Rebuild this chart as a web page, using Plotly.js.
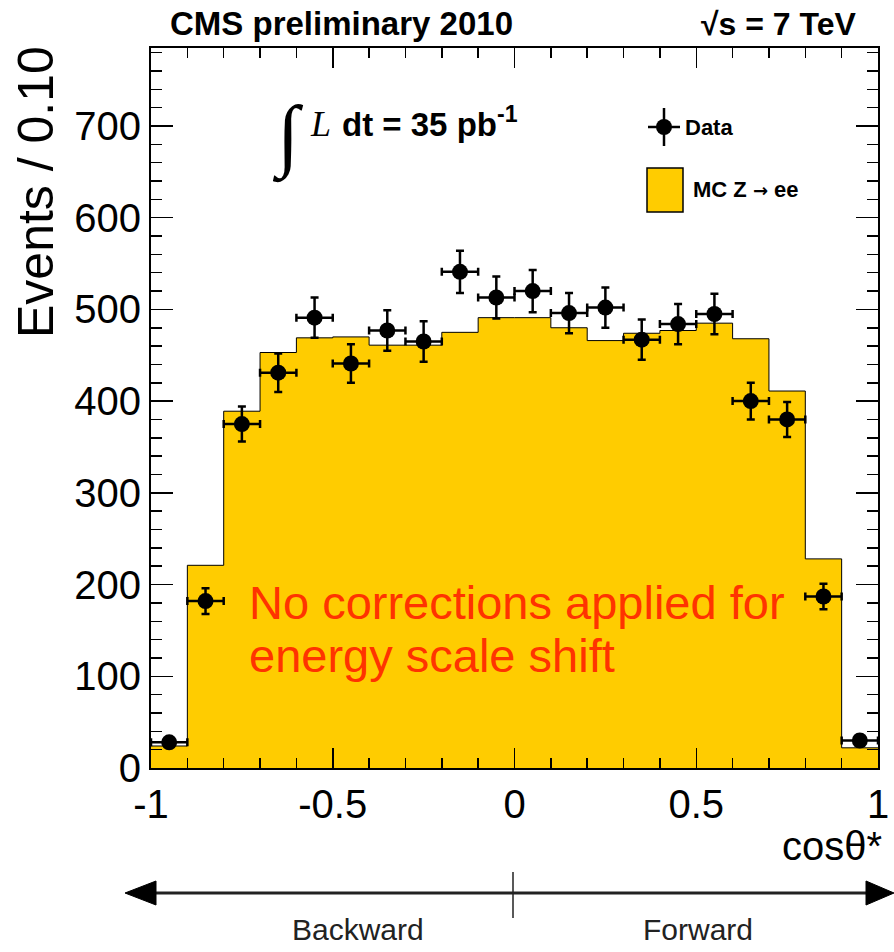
<!DOCTYPE html>
<html>
<head>
<meta charset="utf-8">
<script src="https://cdn.plot.ly/plotly-3.0.1.min.js"></script>
<style>
  html, body { margin: 0; padding: 0; background: #ffffff; }
  #chart { width: 894px; height: 952px; }
</style>
</head>
<body>
<div id="chart"></div>
<script>
// ---------------- data ----------------
const binCenters = [-0.95, -0.85, -0.75, -0.65, -0.55, -0.45, -0.35, -0.25, -0.15, -0.05,
                     0.05,  0.15,  0.25,  0.35,  0.45,  0.55,  0.65,  0.75,  0.85,  0.95];
const binHalfWidth = 0.05;
const mcCounts   = [24, 221, 389, 453, 469, 470, 461, 461, 475, 491,
                    491, 480, 466, 474, 477, 485, 468, 411, 228, 22];
const dataCounts = [28, 182, 375, 431, 491, 441, 477, 465, 541, 513,
                    520, 496, 502, 467, 484, 495, 400, 380, 187, 30];
const dataErrors = [5, 14, 19, 21, 22, 21, 22, 22, 23, 23,
                    23, 22, 22, 22, 22, 22, 20, 19, 14, 6];
const xTickVals = [-1, -0.5, 0, 0.5, 1];
const xTickText = ["-1", "-0.5", "0", "0.5", "1"];
const yTickVals = [0, 100, 200, 300, 400, 500, 600, 700];
const yTickText = ["0", "100", "200", "300", "400", "500", "600", "700"];

// ---------------- geometry helpers (layout only) ----------------
const W = 894, H = 952;
const M = {l: 151, r: 16, t: 48, b: 184};
const PW = W - M.l - M.r, PH = H - M.t - M.b;
const px = x => (x - M.l) / PW;          // pixel x -> paper x
const py = y => (H - M.b - y) / PH;      // pixel y -> paper y

const SANS = "Liberation Sans, Arial, Helvetica, sans-serif";
const SERIF = "Liberation Serif, Times New Roman, serif";

// step histogram built from bin edges
const binEdges = binCenters.map(c => c - binHalfWidth).concat([binCenters[binCenters.length - 1] + binHalfWidth]);
const stepY = mcCounts.concat([mcCounts[mcCounts.length - 1]]);

const mcTrace = {
  type: 'scatter', mode: 'lines', x: binEdges, y: stepY,
  line: {shape: 'hv', color: '#000000', width: 1},
  fill: 'tozeroy', fillcolor: '#ffcc00',
  showlegend: false, hoverinfo: 'skip'
};

const dataTrace = {
  type: 'scatter', mode: 'markers', x: binCenters, y: dataCounts,
  marker: {color: '#000000', size: 16},
  error_y: {type: 'data', array: dataErrors, visible: true, color: '#000000', thickness: 2.5, width: 4},
  error_x: {type: 'constant', value: binHalfWidth, visible: true, color: '#000000', thickness: 2.5, width: 4},
  showlegend: false, cliponaxis: false
};

const annotations = [
  {xref: 'paper', yref: 'paper', x: px(168), y: py(24), xanchor: 'left', yanchor: 'middle',
   text: '<b>CMS preliminary 2010</b>', showarrow: false, font: {family: SANS, size: 33, color: '#000'}},
  {xref: 'paper', yref: 'paper', x: px(858), y: py(24), xanchor: 'right', yanchor: 'middle',
   text: '<b>√s = 7 TeV</b>', showarrow: false, font: {family: SANS, size: 32, color: '#000'}},
  // integrated luminosity
  {xref: 'paper', yref: 'paper', x: px(288), y: py(136), xanchor: 'center', yanchor: 'middle',
   text: '∫', showarrow: false, font: {family: SERIF, size: 80, color: '#000'}},
  {xref: 'paper', yref: 'paper', x: px(308), y: py(124), xanchor: 'left', yanchor: 'middle',
   text: '<i>L</i>', showarrow: false, font: {family: SERIF, size: 36, color: '#000'}},
  {xref: 'paper', yref: 'paper', x: px(340), y: py(122), xanchor: 'left', yanchor: 'middle',
   text: '<b>dt = 35 pb<sup>-1</sup></b>', showarrow: false, font: {family: SANS, size: 33, color: '#000'}},
  // legend texts
  {xref: 'paper', yref: 'paper', x: px(683), y: py(127), xanchor: 'left', yanchor: 'middle',
   text: '<b>Data</b>', showarrow: false, font: {family: SANS, size: 22, color: '#000'}},
  {xref: 'paper', yref: 'paper', x: px(691), y: py(190), xanchor: 'left', yanchor: 'middle',
   text: '<b>MC Z <span style="font-family:DejaVu Sans;font-size:18px">→</span> ee</b>', showarrow: false, font: {family: SANS, size: 22, color: '#000'}},
  // red note
  {xref: 'paper', yref: 'paper', x: px(247), y: py(602), xanchor: 'left', yanchor: 'middle',
   text: 'No corrections applied for', showarrow: false, font: {family: SANS, size: 47, color: '#ff3300'}},
  {xref: 'paper', yref: 'paper', x: px(247), y: py(655), xanchor: 'left', yanchor: 'middle',
   text: 'energy scale shift', showarrow: false, font: {family: SANS, size: 47, color: '#ff3300'}},
  // axis titles
  {xref: 'paper', yref: 'paper', x: px(36), y: py(44), xanchor: 'center', yanchor: 'top', textangle: -90,
   text: 'Events / 0.10', showarrow: false, font: {family: SANS, size: 50, color: '#000'}},
  {xref: 'paper', yref: 'paper', x: px(884), y: py(846), xanchor: 'right', yanchor: 'middle',
   text: 'cosθ*', showarrow: false, font: {family: SANS, size: 40, color: '#000'}},
  // direction labels
  {xref: 'paper', yref: 'paper', x: px(358), y: py(929), xanchor: 'center', yanchor: 'middle',
   text: 'Backward', showarrow: false, font: {family: SANS, size: 30, color: '#222'}},
  {xref: 'paper', yref: 'paper', x: px(698), y: py(929), xanchor: 'center', yanchor: 'middle',
   text: 'Forward', showarrow: false, font: {family: SANS, size: 30, color: '#222'}}
];

const shapes = [
  // legend: data marker with error cross
  {type: 'line', xref: 'paper', yref: 'paper', x0: px(648), x1: px(680), y0: py(127), y1: py(127), line: {color: '#000', width: 2.5}},
  {type: 'line', xref: 'paper', yref: 'paper', x0: px(664), x1: px(664), y0: py(108), y1: py(146), line: {color: '#000', width: 2.5}},
  {type: 'circle', xref: 'paper', yref: 'paper', x0: px(656), x1: px(672), y0: py(119), y1: py(135), fillcolor: '#000', line: {color: '#000', width: 0}},
  // legend: MC box
  {type: 'rect', xref: 'paper', yref: 'paper', x0: px(647), x1: px(683), y0: py(168), y1: py(212), fillcolor: '#ffcc00', line: {color: '#000', width: 1.5}},
  // backward/forward arrow
  {type: 'line', xref: 'paper', yref: 'paper', x0: px(150), x1: px(872), y0: py(893), y1: py(893), line: {color: '#222', width: 3}},
  {type: 'path', xref: 'paper', yref: 'paper',
   path: 'M ' + px(125) + ' ' + py(893) + ' L ' + px(156) + ' ' + py(881) + ' L ' + px(156) + ' ' + py(905) + ' Z',
   fillcolor: '#000', line: {color: '#000', width: 1}},
  {type: 'path', xref: 'paper', yref: 'paper',
   path: 'M ' + px(894) + ' ' + py(893) + ' L ' + px(866) + ' ' + py(881) + ' L ' + px(866) + ' ' + py(905) + ' Z',
   fillcolor: '#000', line: {color: '#000', width: 1}},
  {type: 'line', xref: 'paper', yref: 'paper', x0: px(513), x1: px(513), y0: py(872), y1: py(918), line: {color: '#222', width: 1.5}}
];

const axisCommon = {
  showline: true, linecolor: '#000', linewidth: 2, mirror: 'ticks',
  ticks: 'inside', tickcolor: '#000', tickwidth: 1.5,
  showgrid: false, zeroline: false,
  tickfont: {family: SANS, size: 40, color: '#000'}
};

const layout = {
  width: W, height: H,
  margin: M,
  paper_bgcolor: '#ffffff', plot_bgcolor: '#ffffff',
  font: {family: SANS, color: '#000'},
  showlegend: false,
  xaxis: Object.assign({}, axisCommon, {
    range: [-1, 1], tickmode: 'array', tickvals: xTickVals, ticktext: xTickText, ticklen: 20,
    minor: {dtick: 0.1, tick0: -1, ticks: 'inside', ticklen: 10, tickcolor: '#000', tickwidth: 1.5}
  }),
  yaxis: Object.assign({}, axisCommon, {
    range: [0, 785], tickmode: 'array', tickvals: yTickVals, ticktext: yTickText, ticklen: 22,
    minor: {dtick: 20, tick0: 0, ticks: 'inside', ticklen: 11, tickcolor: '#000', tickwidth: 1.5}
  }),
  annotations: annotations,
  shapes: shapes
};

Plotly.newPlot('chart', [mcTrace, dataTrace], layout, {staticPlot: true, displayModeBar: false});
</script>
</body>
</html>
